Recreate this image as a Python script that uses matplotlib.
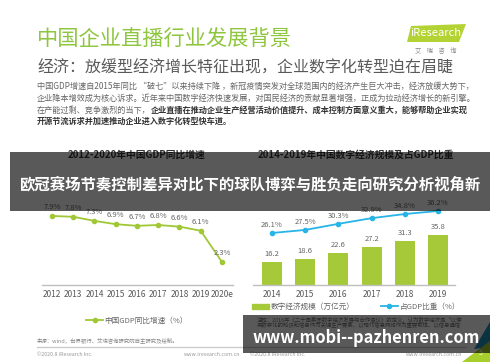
import matplotlib
matplotlib.use("Agg")
import matplotlib.pyplot as plt
from matplotlib.lines import Line2D
from matplotlib.patches import Patch, Polygon, Rectangle

plt.rcParams["font.family"] = ["Noto Sans CJK SC", "DejaVu Sans"]

W, H = 500, 362

# left chart: GDP growth
gdp_years = ["2012", "2013", "2014", "2015", "2016", "2017", "2018", "2019", "2020e"]
gdp_growth = [7.9, 7.8, 7.3, 6.9, 6.7, 6.8, 6.6, 6.1, 2.3]

# right chart: digital economy
de_years = ["2014", "2015", "2016", "2017", "2018", "2019"]
de_scale = [16.2, 18.6, 22.6, 27.2, 31.3, 35.8]
de_share = [26.1, 27.5, 30.3, 32.9, 34.8, 36.2]

GREEN = "#a0c834"
BAR = "#a6c93a"
BLUE = "#27b4e6"
GRAY = "#666666"

fig = plt.figure(figsize=(5, 3.62), dpi=100)


def px_axes(x0, y0, x1, y1):
    # axes placed in pixel coordinates (y measured from top)
    return fig.add_axes([x0 / W, 1 - y1 / H, (x1 - x0) / W, (y1 - y0) / H])


bg = px_axes(0, 0, W, H)
bg.set_xlim(0, W)
bg.set_ylim(H, 0)
bg.axis("off")

# header
bg.text(37, 40, "中国企业直播行业发展背景", color="#8ec63f", fontsize=15.3, va="center")
bg.text(37, 68, "经济：放缓型经济增长特征出现，企业数字化转型迫在眉睫", color="#595959",
        fontsize=11.5, va="center")
bg.add_patch(Polygon([(411, 26), (466, 24), (459, 42), (407, 42)], color="#b3d334", lw=0))
bg.text(436, 33.5, "iResearch", color="white", fontsize=8, ha="center", va="center")
bg.text(436, 51, "艾    瑞    咨    询", color="#888888", fontsize=4.5, ha="center", va="center")

body = [
    "中国GDP增速自2015年同比 “破七”以来持续下降 ，新冠疫情突发对全球范围内的经济产生巨大冲击，经济放缓大势下，",
    "企业降本增效成为核心诉求。近年来中国数字经济快速发展，对国民经济的贡献显著增强，正成为拉动经济增长的新引擎。",
]
for i, line in enumerate(body):
    bg.text(37, 86 + i * 12, line, color=GRAY, fontsize=5.9, va="center")

t3 = bg.text(37, 110, "在产能过剩、竞争激烈的当下，", color=GRAY, fontsize=5.9, va="center")
renderer = fig.canvas.get_renderer()
x_end = bg.transData.inverted().transform(t3.get_window_extent(renderer))[1][0]
bg.text(x_end, 110, "企业直播在推动企业生产经营活动价值提升、成本控制方面意义重大，能够帮助企业实现",
        color="#333333", fontsize=5.9, weight="bold", va="center")
bg.text(37, 121.5, "开源节流诉求并加速推动企业进入数字化转型快车道。", color="#333333",
        fontsize=5.9, weight="bold", va="center")

# chart titles
bg.text(137, 155, "2012-2020年中国GDP同比增速", color="#333333", fontsize=7, weight="bold",
        ha="center", va="center")
bg.text(356, 155, "2014-2019年中国数字经济规模及占GDP比重", color="#333333", fontsize=7,
        weight="bold", ha="center", va="center")

# footer
bg.text(37, 340, "来源：wind，世界银行、艾瑞咨询研究院自主研究及绘制。", color="#888888",
        fontsize=3.9, va="center")
notes = [
    "注释：2016年《二十国集团数字经济发展与合作倡议》的定义，认为数字经济是“以使",
    "用数字化的知识和信息作为关键生产要素、以现代信息网络作为重要载体、以信息通信",
]
for i, line in enumerate(notes):
    bg.text(257, 319 + i * 6.5, line, color="#777777", fontsize=3.9, va="center")
bg.plot([37, 465], [347, 347], color="#cccccc", lw=1)
for x0, x1 in [(37, 240), (250, 462)]:
    bg.text(x0, 354, "©2020.8 iResearch Inc.", color="#999999", fontsize=3.8, va="center")
    bg.text(x1, 354, "www.iresearch.com.cn", color="#999999", fontsize=3.8, va="center", ha="right")
bg.add_patch(Polygon([(462, 362), (490, 341), (490, 362)], color="#a6cf2c", lw=0))
bg.add_patch(Polygon([(474, 349), (490, 322), (490, 341), (481, 348)], color="#1f8fb8", lw=0))
bg.text(481, 353, "5", color="white", fontsize=5, ha="center", va="center")


def style_axes(ax):
    ax.patch.set_alpha(0)
    for side in ["top", "left", "right"]:
        ax.spines[side].set_visible(False)
    ax.spines["bottom"].set_color("#bfbfbf")
    ax.spines["bottom"].set_linewidth(1)
    ax.set_yticks([])
    ax.tick_params(axis="x", length=0, pad=3.5, labelsize=6, labelcolor="#595959")


# left chart
ax1 = px_axes(42, 165, 233, 285)
xs1 = list(range(len(gdp_years)))
ax1.plot(xs1, gdp_growth, color=GREEN, lw=1.3, marker="o", ms=3)
for x, v in zip(xs1, gdp_growth):
    ax1.annotate(f"{v}%", (x, v), xytext=(0, 6.5), textcoords="offset points",
                 ha="center", va="center", fontsize=5.5, color=GRAY)
ax1.set_xlim(-0.47, 8.52)
ax1.set_ylim(-0.5, 14.1)
ax1.set_xticks(xs1, gdp_years)
style_axes(ax1)
ax1.legend(handles=[Line2D([], [], color=GREEN, lw=1.3, marker="o", ms=3)],
           labels=["中国GDP同比增速（%）"], loc="center",
           bbox_to_anchor=(137 / W, 1 - 321 / H), bbox_transform=fig.transFigure,
           frameon=False, fontsize=5.5, labelcolor=GRAY, handlelength=2.2, handletextpad=0.2)

# right chart
ax2 = px_axes(253, 165, 455, 285)
xs2 = list(range(len(de_years)))
ax2.bar(xs2, de_scale, width=0.6, color=BAR)
for x, v in zip(xs2, de_scale):
    ax2.annotate(f"{v}", (x, v), xytext=(0, 6), textcoords="offset points",
                 ha="center", va="center", fontsize=5.5, color=GRAY)
ax2.set_xlim(-0.57, 5.51)
ax2.set_ylim(0, 85.7)
ax2.set_xticks(xs2, de_years)
style_axes(ax2)

ax3 = ax2.twinx()
ax3.plot(xs2, de_share, color=BLUE, lw=1.3, marker="o", ms=3)
for x, v in zip(xs2, de_share):
    ax3.annotate(f"{v}%", (x, v), xytext=(0, 6), textcoords="offset points",
                 ha="center", va="center", fontsize=5.5, color=GRAY)
ax3.set_ylim(2.23, 57.3)
ax3.axis("off")

ax2.legend(handles=[Patch(color=BAR), Line2D([], [], color=BLUE, lw=1.3, marker="o", ms=3)],
           labels=["数字经济规模（万亿元）", "占GDP比重（%）"], loc="center", ncol=2,
           bbox_to_anchor=(356 / W, 1 - 307 / H), bbox_transform=fig.transFigure,
           frameon=False, fontsize=5.5, labelcolor=GRAY, handlelength=2.2,
           handletextpad=0.2, columnspacing=3.5)

# overlay banners
top = px_axes(0, 0, W, H)
top.set_zorder(10)
top.patch.set_alpha(0)
top.set_xlim(0, W)
top.set_ylim(H, 0)
top.axis("off")
top.add_patch(Rectangle((10, 152), 480, 59, color="black", alpha=0.65, lw=0))
top.text(250, 184, "欧冠赛场节奏控制差异对比下的球队博弈与胜负走向研究分析视角新", color="white",
         fontsize=11.1, weight="bold", ha="center", va="center")
top.add_patch(Rectangle((243, 315), 247, 38, color="black", alpha=0.65, lw=0))
top.text(366, 338, "www.mobi--pazhenren.com", color="white", fontsize=11.8, weight="bold",
         ha="center", va="center")

fig.savefig("out.png", dpi=100)
